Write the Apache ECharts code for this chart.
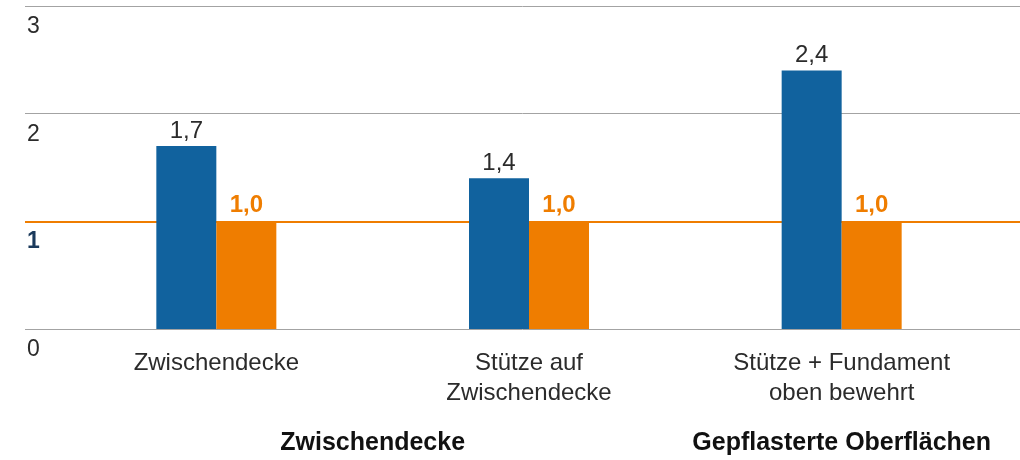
<!DOCTYPE html>
<html>
<head>
<meta charset="utf-8">
<script src="https://cdn.jsdelivr.net/npm/echarts@6/dist/echarts.min.js"></script>
<style>
  html, body { margin: 0; padding: 0; background: #fff; }
  #chart { width: 1020px; height: 460px; }
</style>
</head>
<body>
<div id="chart"></div>
<script>
// categories and values
const categories = ['Zwischendecke', 'Stütze auf\nZwischendecke', 'Stütze + Fundament\noben bewehrt']
const blueValues = [1.7, 1.4, 2.4]
const orangeValues = [1.0, 1.0, 1.0]
const refValue = 1
const yTicks = [0, 1, 2, 3]
// group captions below the categories: [text, first category index, last category index]
const groupNames = ['Zwischendecke', 'Gepflasterte Oberflächen']
const groupFrom = [0, 2]
const groupTo = [1, 2]

const BLUE = '#11629e'
const ORANGE = '#ef7d00'
const FONT = 'Liberation Sans'

// comma as decimal sign
function fmt(v) {
    return v.toFixed(1).replace('.', ',')
}

const cs = echarts.init(document.getElementById('chart'))

const option = {
    animation: false,
    textStyle: { fontFamily: FONT },
    grid: [
        // bars
        { left: 60, right: 22, top: 6, bottom: 131 },
        // full-width gridlines and y labels
        { left: 25, right: 0, top: 6, bottom: 131 }
    ],
    xAxis: [
        {
            type: 'category',
            gridIndex: 0,
            data: categories,
            axisLine: { show: false },
            axisTick: { show: false },
            axisLabel: {
                margin: 19,
                fontSize: 24,
                lineHeight: 30,
                color: '#2b2b2b',
                interval: 0
            }
        },
        { type: 'value', gridIndex: 1, min: 0, max: 1, show: false }
    ],
    yAxis: [
        { type: 'value', gridIndex: 0, min: yTicks[0], max: yTicks[yTicks.length - 1], interval: 1, show: false },
        {
            type: 'value',
            gridIndex: 1,
            min: yTicks[0],
            max: yTicks[yTicks.length - 1],
            interval: 1,
            axisLine: { show: false },
            axisTick: { show: false },
            splitLine: { lineStyle: { color: '#a3a3a3', width: 1 } },
            axisLabel: {
                inside: true,
                margin: 2,
                verticalAlign: 'top',
                padding: [9, 0, 0, 0],
                formatter: v => v === refValue ? '{b|' + v + '}' : '{n|' + v + '}',
                rich: {
                    n: { fontSize: 23, color: '#2b2b2b', fontFamily: FONT },
                    b: { fontSize: 23, color: '#1b3a5c', fontWeight: 'bold', fontFamily: FONT }
                }
            }
        }
    ],
    series: [
        {
            // orange reference line across the whole width, behind the bars
            type: 'line',
            xAxisIndex: 1,
            yAxisIndex: 1,
            data: [],
            z: 1,
            silent: true,
            markLine: {
                silent: true,
                z: 1,
                symbol: 'none',
                label: { show: false },
                lineStyle: { color: ORANGE, width: 2, type: 'solid' },
                data: [{ yAxis: refValue }]
            }
        },
        {
            type: 'bar',
            name: 'blue',
            xAxisIndex: 0,
            yAxisIndex: 0,
            data: blueValues,
            barWidth: 60,
            barGap: '0%',
            z: 6,
            itemStyle: { color: BLUE },
            label: {
                show: true,
                position: 'top',
                distance: 3,
                fontSize: 24,
                color: '#2b2b2b',
                formatter: p => fmt(p.value)
            }
        },
        {
            type: 'bar',
            name: 'orange',
            xAxisIndex: 0,
            yAxisIndex: 0,
            data: orangeValues,
            barWidth: 60,
            barGap: '0%',
            z: 6,
            itemStyle: { color: ORANGE },
            label: {
                show: true,
                position: 'top',
                distance: 4,
                fontSize: 24,
                fontWeight: 'bold',
                color: ORANGE,
                formatter: p => fmt(p.value)
            }
        }
    ]
}
cs.setOption(option)

// place the group captions under the middle of their categories
const graphics = groupNames.map((name, i) => {
    const x1 = cs.convertToPixel({ xAxisIndex: 0 }, categories[groupFrom[i]])
    const x2 = cs.convertToPixel({ xAxisIndex: 0 }, categories[groupTo[i]])
    return {
        type: 'text',
        x: (x1 + x2) / 2,
        y: 443,
        style: {
            text: name,
            align: 'center',
            verticalAlign: 'middle',
            font: 'bold 25px "Liberation Sans"',
            fill: '#111'
        }
    }
})
cs.setOption({ graphic: graphics })
</script>
</body>
</html>
